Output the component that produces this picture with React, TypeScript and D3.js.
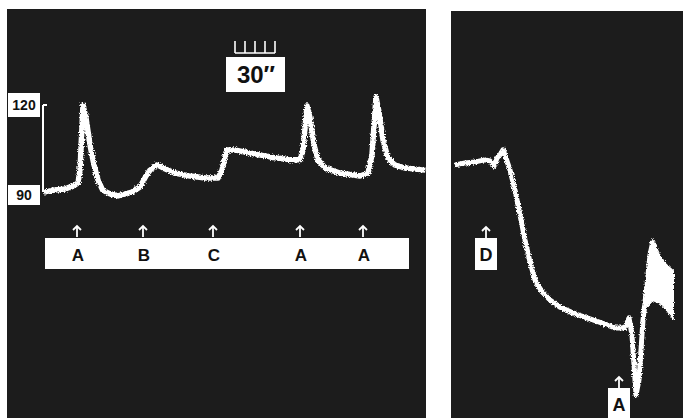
import React from "react";
import * as d3 from "d3";

// Left record: time (s) and pressure (mmHg)
const leftTime = [0, 8, 16, 23, 25.5, 27, 29.25, 31.5, 34.5, 37.5, 40.5, 44, 49.5, 55.5, 61, 66, 72, 76.5, 79.5, 85, 91, 98, 109.5, 121, 130.5, 133.5, 137, 143, 154.5, 169.5, 184.5, 192, 194.25, 197.25, 199.5, 202.5, 205.5, 211, 222, 237, 243, 246, 249, 251.25, 254.25, 258, 263, 271, 286];
const leftPressure = [90.3, 91.0, 91.4, 92.7, 93.4, 97.8, 120, 115.6, 106.4, 99.6, 94.4, 91.0, 89.7, 89.0, 89.7, 90.3, 92.1, 95.8, 97.8, 99.6, 98.2, 96.8, 95.8, 95.1, 95.1, 97.8, 104.7, 104.7, 103.6, 102.3, 101.3, 101.3, 104.7, 119.7, 115.6, 106.4, 101.3, 98.5, 96.8, 95.8, 96.8, 103.0, 122.7, 117.6, 108.1, 101.9, 99.6, 98.5, 97.8];

// Right record
const rightTime = [0, 7.5, 15, 22.5, 26.25, 29.25, 31.5, 33.75, 36, 38.25, 41.25, 45, 48.75, 52.5, 56.25, 60, 65.25, 71.25, 78.75, 90, 101.25, 112.5, 120, 127.5, 130.5, 132.75, 135.75, 138, 141, 144, 146.25, 148.5];
const rightPressure = [99.6, 100.2, 100.6, 101.3, 100.9, 99.2, 101.9, 103.0, 104.7, 101.9, 97.8, 91.0, 82.5, 74.0, 66.5, 60.3, 56.3, 53.5, 51.1, 48.8, 47.1, 45.3, 44.0, 44.0, 47.4, 41.6, 21.1, 26.3, 46.7, 58.6, 68.9, 73.6];

// Pulse-pressure envelope at the end of the right record
const bandTime = [144.75, 148.5, 153.75, 158.25, 163.5];
const bandUpper = [56.9, 73.6, 68.5, 65.5, 63.4];
const bandLower = [51.8, 53.5, 52.5, 50.5, 47.4];

// Injection marks
const leftEventTimes = [24.75, 74.25, 126.75, 192, 239.25];
const leftEventLabels = ["A", "B", "C", "A", "A"];
const rightEventTimes = [23.25, 123];
const rightEventLabels = ["D", "A"];

// Calibration and time base
const calibrationTicks = ["120", "90"];
const calibrationValues = [120, 90];
const timeBaseStart = 143.25;
const timeBaseTicks = [0, 7.5, 15, 22.5, 30];
const timeBaseLabel = "30\u2033";

const W = 683;
const H = 418;

export default function App() {
  const y = d3.scaleLinear().domain([90, 120]).range([193, 105]);
  const xL = d3.scaleLinear().domain([0, 300]).range([44, 444]);
  const xR = d3.scaleLinear().domain([0, 165]).range([455, 675]);

  const leftLine = d3
    .line<number>()
    .x((_, i) => xL(leftTime[i]))
    .y((d) => y(d))
    .curve(d3.curveLinear)(leftPressure) as string;

  const rightLine = d3
    .line<number>()
    .x((_, i) => xR(rightTime[i]))
    .y((d) => y(d))(rightPressure) as string;

  const band = d3
    .area<number>()
    .x((_, i) => xR(bandTime[i]))
    .y0((_, i) => y(bandLower[i]))
    .y1((d) => y(d))(bandUpper) as string;

  const font = "'Liberation Sans', Arial, sans-serif";
  const ink = "#1c1c1c";

  const arrow = (cx: number, top: number, key: string) => (
    <g key={key} stroke="#fff" strokeWidth={1.8} fill="none">
      <path d={`M${cx - 4},${top + 4} L${cx},${top} L${cx + 4},${top + 4}`} />
      <line x1={cx} y1={top} x2={cx} y2={top + 11} />
    </g>
  );

  const calX = xL(0) - 1;

  return (
    <svg
      width={W}
      height={H}
      style={{ position: "absolute", left: 0, top: 0, background: "#fff" }}
    >
      <defs>
        <filter id="grain" x="-5%" y="-20%" width="110%" height="140%">
          <feTurbulence type="fractalNoise" baseFrequency="0.9" numOctaves={2} seed={3} result="n" />
          <feDisplacementMap in="SourceGraphic" in2="n" scale={4} xChannelSelector="R" yChannelSelector="G" />
        </filter>
      </defs>

      {/* panels */}
      <rect x={7} y={9} width={419} height={H - 9} fill={ink} />
      <rect x={451} y={11} width={W - 451} height={H - 11} fill={ink} />

      {/* calibration bar */}
      <g stroke="#fff" strokeWidth={2} fill="none">
        <line x1={calX} y1={y(calibrationValues[0])} x2={calX} y2={y(calibrationValues[1]) - 1} />
        <line x1={calX} y1={y(calibrationValues[0])} x2={calX + 4} y2={y(calibrationValues[0])} />
      </g>
      {calibrationTicks.map((t, i) => (
        <g key={t}>
          <rect
            x={8}
            y={y(calibrationValues[i]) - (i === 0 ? 12 : 8)}
            width={32}
            height={i === 0 ? 24 : 20}
            fill="#fff"
          />
          <text
            x={24}
            y={y(calibrationValues[i]) + (i === 0 ? 5 : 7)}
            textAnchor="middle"
            fontFamily={font}
            fontWeight="bold"
            fontSize={14}
            fill="#111"
          >
            {t}
          </text>
        </g>
      ))}

      {/* time base */}
      <g stroke="#fff" strokeWidth={1.6} fill="none">
        <line
          x1={xL(timeBaseStart)}
          x2={xL(timeBaseStart + 30)}
          y1={53}
          y2={53}
        />
        {timeBaseTicks.map((t) => (
          <line key={t} x1={xL(timeBaseStart + t)} x2={xL(timeBaseStart + t)} y1={41} y2={53} />
        ))}
      </g>
      <rect x={226} y={57} width={59} height={35} fill="#fff" />
      <text
        x={256}
        y={83}
        textAnchor="middle"
        fontFamily={font}
        fontSize={24}
        fontWeight="bold"
        fill="#111"
      >
        {timeBaseLabel}
      </text>

      {/* traces */}
      <g filter="url(#grain)">
        <path d={leftLine} fill="none" stroke="#fff" strokeWidth={5.5} strokeLinejoin="round" />
        <path d={rightLine} fill="none" stroke="#fff" strokeWidth={5} strokeLinejoin="round" />
        <path d={band} fill="#fff" stroke="#fff" strokeWidth={2} />
      </g>

      {/* left event strip */}
      <rect x={45} y={238} width={364} height={31} fill="#fff" />
      {leftEventTimes.map((t, i) => (
        <g key={`l${i}`}>
          {arrow(xL(t), 226, `la${i}`)}
          <text
            x={xL(t) + 1}
            y={261}
            textAnchor="middle"
            fontFamily={font}
            fontWeight="bold"
            fontSize={17}
            fill="#111"
          >
            {leftEventLabels[i]}
          </text>
        </g>
      ))}

      {/* right event labels */}
      {rightEventTimes.map((t, i) => {
        const top = i === 0 ? 238 : 388;
        return (
          <g key={`r${i}`}>
            {arrow(xR(t), top - 11, `ra${i}`)}
            <rect x={xR(t) - 11} y={top} width={22} height={i === 0 ? 32 : 30} fill="#fff" />
            <text
              x={xR(t)}
              y={top + 23}
              textAnchor="middle"
              fontFamily={font}
              fontWeight="bold"
              fontSize={18}
              fill="#111"
            >
              {rightEventLabels[i]}
            </text>
          </g>
        );
      })}
    </svg>
  );
}
